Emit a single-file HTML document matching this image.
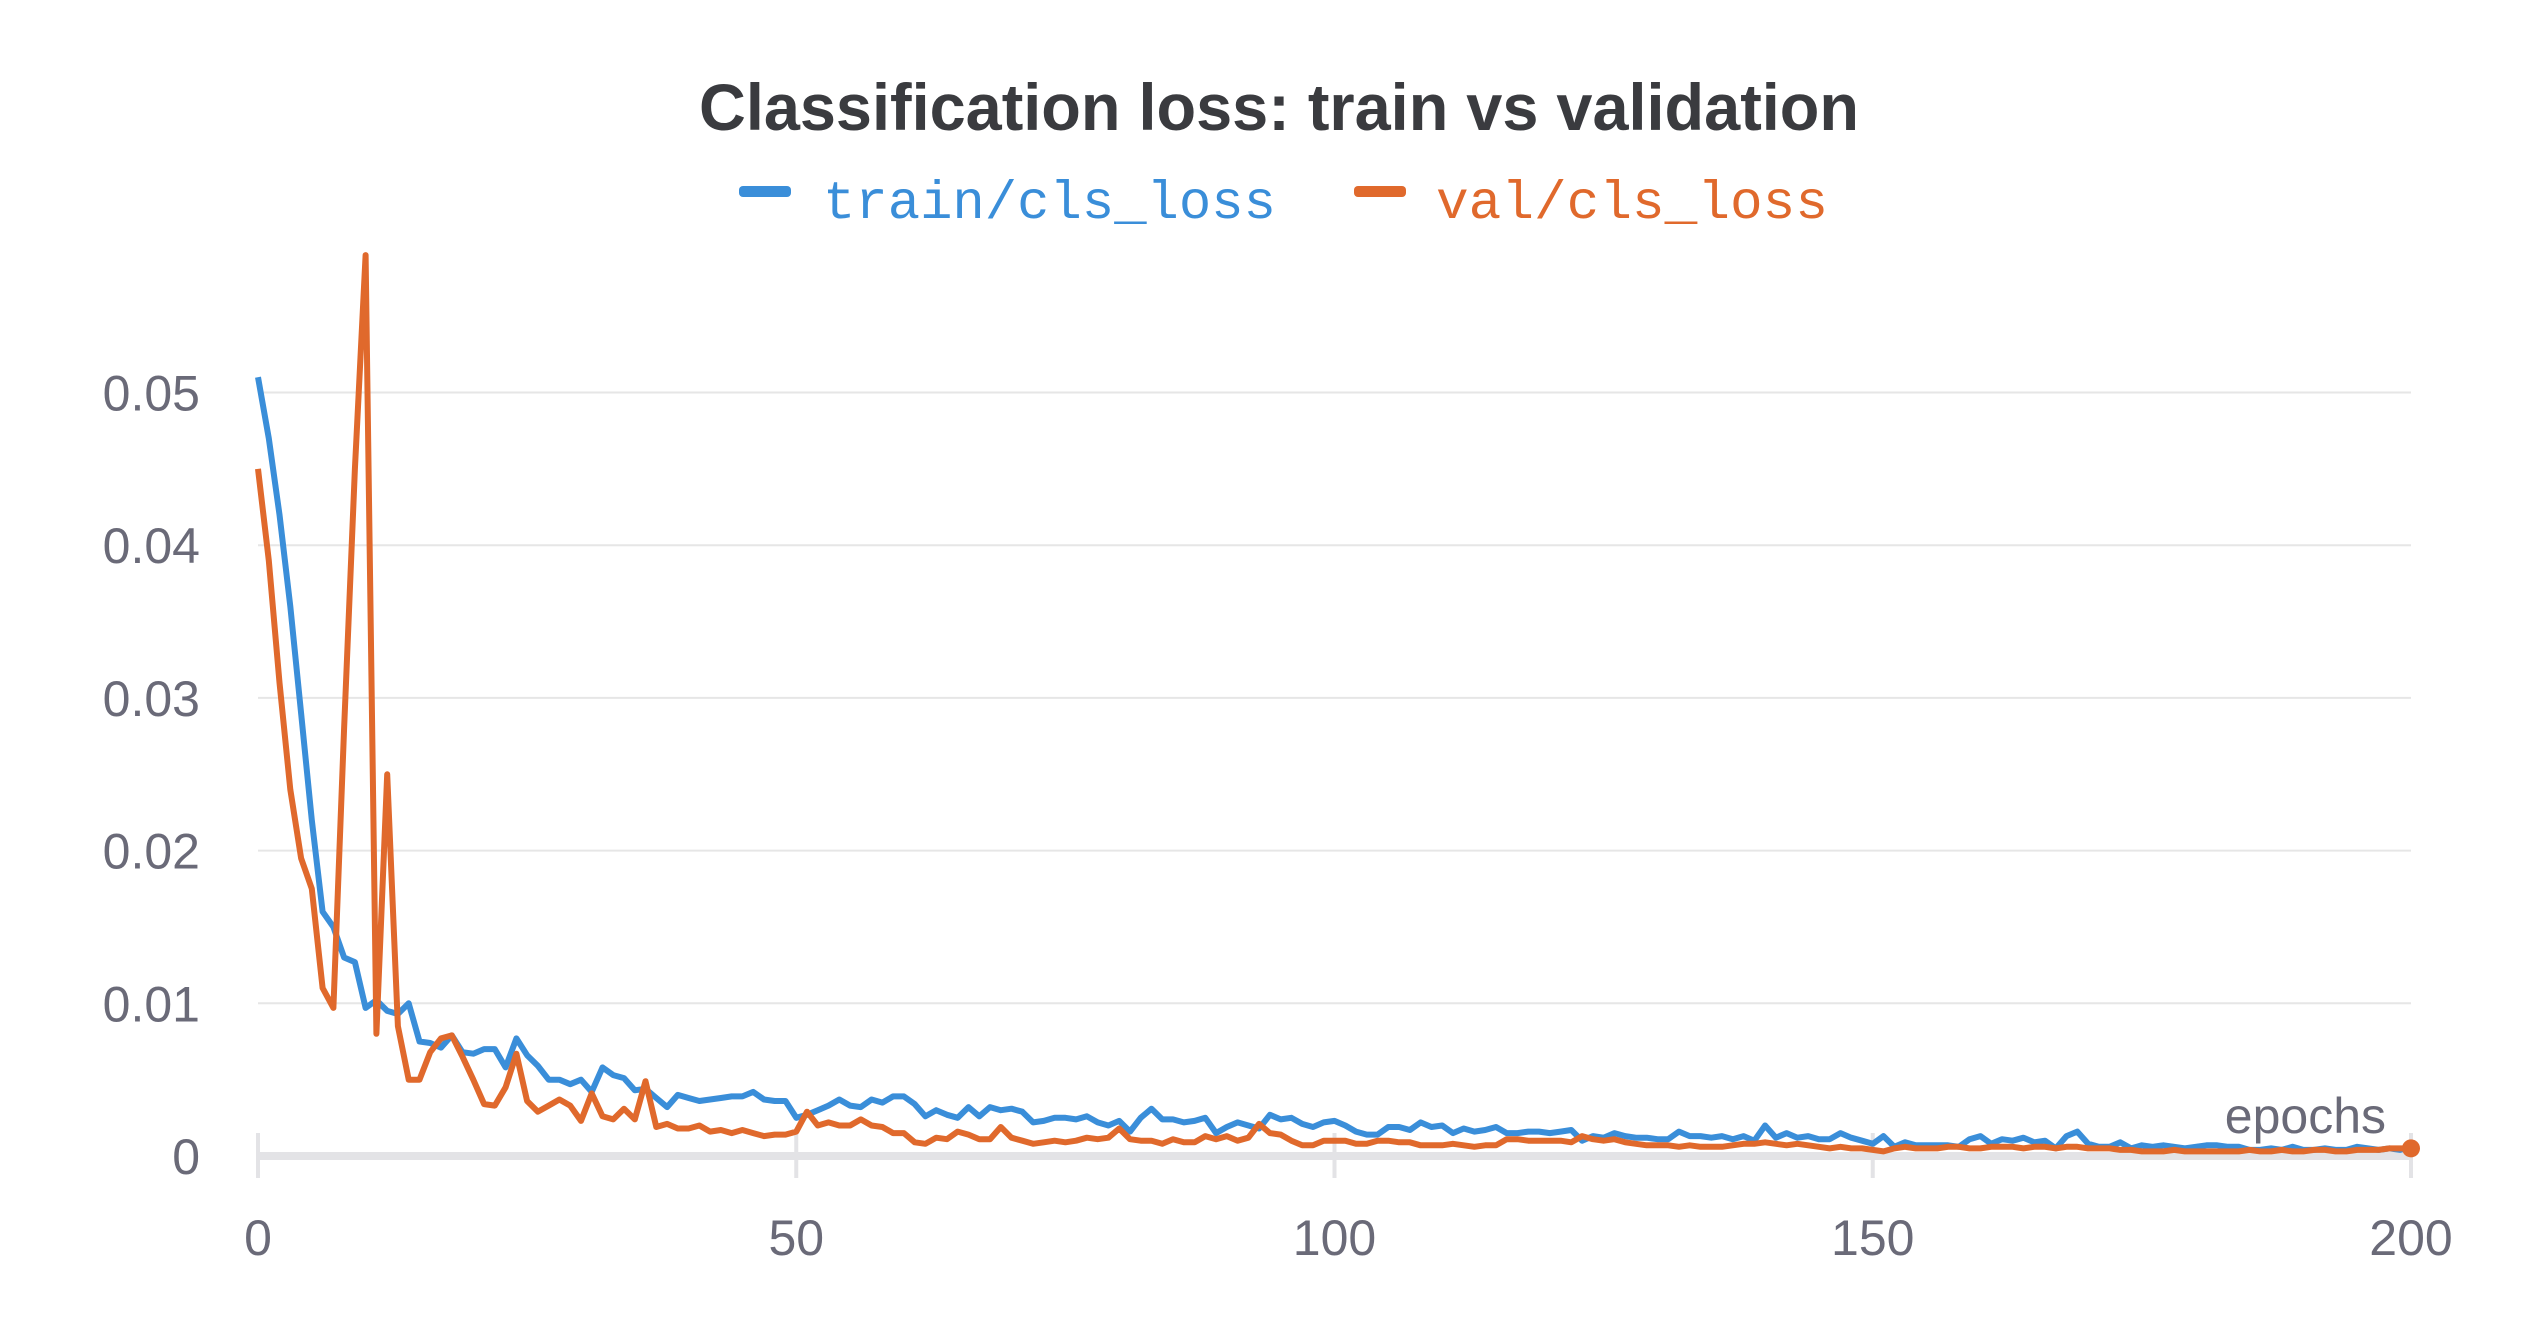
<!DOCTYPE html>
<html><head><meta charset="utf-8"><style>
html,body{margin:0;padding:0;background:#fff;}
svg{display:block;}
</style></head><body>
<svg id="chart" width="2528" height="1328" viewBox="0 0 2528 1328" xmlns="http://www.w3.org/2000/svg">
<text x="1279" y="130" text-anchor="middle" font-family="Liberation Sans, sans-serif" font-weight="bold" font-size="66" fill="#3a3b3f" textLength="1160" lengthAdjust="spacingAndGlyphs">Classification loss: train vs validation</text>
<g>
<g>
<rect x="739" y="186" width="52" height="11" rx="4" fill="#3a8ed9"/>
<text x="823" y="218" font-family="Liberation Mono, monospace" font-size="54" fill="#3a8ed9" textLength="453" lengthAdjust="spacingAndGlyphs">train/cls_loss</text>
</g>
<g>
<rect x="1354" y="186" width="52" height="11" rx="4" fill="#e0692c"/>
<text x="1436" y="218" font-family="Liberation Mono, monospace" font-size="54" fill="#e0692c" textLength="392" lengthAdjust="spacingAndGlyphs">val/cls_loss</text>
</g>
</g>
<g id="grid"></g>
<g id="axes"></g>
<g id="series"></g>
<text x="2386" y="1133" text-anchor="end" font-family="Liberation Sans, sans-serif" font-size="50" fill="#6a6a78">epochs</text>
</svg>
<script>
const yTicks = [0, 0.01, 0.02, 0.03, 0.04, 0.05];
const yTickLabels = ["0", "0.01", "0.02", "0.03", "0.04", "0.05"];
const xTicks = [0, 50, 100, 150, 200];
const xTickLabels = ["0", "50", "100", "150", "200"];
const trainLoss = [
0.051,0.047,0.042,0.036,0.029,0.022,0.016,0.015,0.013,0.0127,
0.0097,0.0102,0.0095,0.0093,0.0100,0.0075,0.0074,0.0071,0.0079,0.0068,
0.0067,0.0070,0.0070,0.0058,0.0077,0.0066,0.0059,0.0050,0.0050,0.0047,
0.0050,0.0042,0.0058,0.0053,0.0051,0.0043,0.0044,0.0038,0.0032,0.0040,
0.0038,0.0036,0.0037,0.0038,0.0039,0.0039,0.0042,0.0037,0.0036,0.0036,
0.0025,0.0027,0.0030,0.0033,0.0037,0.0033,0.0032,0.0037,0.0035,0.0039,
0.0039,0.0034,0.0026,0.0030,0.0027,0.0025,0.0032,0.0026,0.0032,0.0030,
0.0031,0.0029,0.0022,0.0023,0.0025,0.0025,0.0024,0.0026,0.0022,0.0020,
0.0023,0.0016,0.0025,0.0031,0.0024,0.0024,0.0022,0.0023,0.0025,0.0015,
0.0019,0.0022,0.0020,0.0018,0.0027,0.0024,0.0025,0.0021,0.0019,0.0022,
0.0023,
0.0020,0.0016,0.0014,0.0014,0.0019,0.0019,0.0017,0.0022,0.0019,0.0020,
0.0015,0.0018,0.0016,0.0017,0.0019,0.0015,0.0015,0.0016,0.0016,0.0015,
0.0016,0.0017,0.0010,0.0013,0.0012,0.0015,0.0013,0.0012,0.0012,0.0011,
0.0011,0.0016,0.0013,0.0013,0.0012,0.0013,0.0011,0.0013,0.0010,0.0020,
0.0012,0.0015,0.0012,0.0013,0.0011,0.0011,0.0015,0.0012,0.0010,0.0008,
0.0013,0.0006,0.0009,0.0007,0.0007,0.0007,0.0007,0.0006,0.0011,0.0013,
0.0008,0.0011,0.0010,0.0012,0.0009,0.0010,0.0005,0.0013,0.0016,0.0008,
0.0006,0.0006,0.0009,0.0005,0.0007,0.0006,0.0007,0.0006,0.0005,0.0006,
0.0007,0.0007,0.0006,0.0006,0.0004,0.0004,0.0005,0.0004,0.0006,0.0004,
0.0004,0.0005,0.0004,0.0004,0.0006,0.0005,0.0004,0.0005,0.0004,0.0006
];
const valLoss = [
0.045,0.039,0.031,0.024,0.0195,0.0175,0.011,0.0097,0.028,0.045,
0.059,0.008,0.025,0.0085,0.005,0.005,0.0068,0.0077,0.0079,0.0065,
0.0050,0.0034,0.0033,0.0045,0.0067,0.0036,0.0029,0.0033,0.0037,0.0033,
0.0023,0.0041,0.0026,0.0024,0.0031,0.0024,0.0049,0.0019,0.0021,0.0018,
0.0018,0.0020,0.0016,0.0017,0.0015,0.0017,0.0015,0.0013,0.0014,0.0014,
0.0016,0.0029,0.0020,0.0022,0.0020,0.0020,0.0024,0.0020,0.0019,0.0015,
0.0015,0.0009,0.0008,0.0012,0.0011,0.0016,0.0014,0.0011,0.0011,0.0019,
0.0012,0.0010,0.0008,0.0009,0.0010,0.0009,0.0010,0.0012,0.0011,0.0012,
0.0018,0.0011,0.0010,0.0010,0.0008,0.0011,0.0009,0.0009,0.0013,0.0011,
0.0013,0.0010,0.0012,0.0021,0.0015,0.0014,0.0010,0.0007,0.0007,0.0010,
0.0010,
0.0010,0.0008,0.0008,0.0010,0.0010,0.0009,0.0009,0.0007,0.0007,0.0007,
0.0008,0.0007,0.0006,0.0007,0.0007,0.0011,0.0011,0.0010,0.0010,0.0010,
0.0010,0.0009,0.0013,0.0011,0.0010,0.0011,0.0009,0.0008,0.0007,0.0007,
0.0007,0.0006,0.0007,0.0006,0.0006,0.0006,0.0007,0.0008,0.0008,0.0009,
0.0008,0.0007,0.0008,0.0007,0.0006,0.0005,0.0006,0.0005,0.0005,0.0004,
0.0003,0.0005,0.0006,0.0005,0.0005,0.0005,0.0006,0.0006,0.0005,0.0005,
0.0006,0.0006,0.0006,0.0005,0.0006,0.0006,0.0005,0.0006,0.0006,0.0005,
0.0005,0.0005,0.0004,0.0004,0.0003,0.0003,0.0003,0.0004,0.0003,0.0003,
0.0003,0.0003,0.0003,0.0003,0.0004,0.0003,0.0003,0.0004,0.0003,0.0003,
0.0004,0.0004,0.0003,0.0003,0.0004,0.0004,0.0004,0.0005,0.0005,0.0005
];

const NS = "http://www.w3.org/2000/svg";
const X0 = 258, X1 = 2411, Y0 = 1156, YTOP = 251;
const xMax = 200, yPerUnit = 15270;
function xs(e){ return X0 + (X1 - X0) * e / xMax; }
function ys(v){ return Math.max(YTOP, Y0 - v * yPerUnit); }
function mk(tag, attrs, parent){
  const el = document.createElementNS(NS, tag);
  for (const k in attrs) el.setAttribute(k, attrs[k]);
  parent.appendChild(el);
  return el;
}
const grid = document.getElementById('grid');
const axes = document.getElementById('axes');
const series = document.getElementById('series');

yTicks.forEach((t, i) => {
  if (t > 0) {
    const gl = mk('line', {x1: X0, x2: X1, y1: ys(t), y2: ys(t), stroke: '#e6e6e6', 'stroke-width': 2}, grid);
    
    
  }
  const tx = mk('text', {x: 200, y: ys(t) + 18, 'text-anchor': 'end', 'font-family': 'Liberation Sans, sans-serif', 'font-size': 50, fill: '#6a6a78'}, axes);
  tx.textContent = yTickLabels[i];
  
  
});
const zl = mk('line', {x1: X0, x2: X1, y1: Y0, y2: Y0, stroke: '#e3e3e6', 'stroke-width': 8}, axes);


xTicks.forEach((t, i) => {
  const tk = mk('line', {x1: xs(t), x2: xs(t), y1: 1133, y2: 1178, stroke: '#e3e3e6', 'stroke-width': 4}, axes);
  
  
  const tx = mk('text', {x: xs(t), y: 1255, 'text-anchor': 'middle', 'font-family': 'Liberation Sans, sans-serif', 'font-size': 50, fill: '#6a6a78'}, axes);
  tx.textContent = xTickLabels[i];
  
  
});
function drawLine(data, color, name){
  const pts = data.map((v, i) => xs(i).toFixed(1) + ',' + ys(v).toFixed(1)).join(' ');
  const pl = mk('polyline', {points: pts, fill: 'none', stroke: color, 'stroke-width': 6, 'stroke-linejoin': 'round'}, series);
  
  
}
drawLine(trainLoss, '#3a8ed9', 'train-loss-line');
drawLine(valLoss, '#e0692c', 'val-loss-line');
const last = valLoss.length - 1;
const dot = mk('circle', {cx: xs(last), cy: ys(valLoss[last]), r: 9, fill: '#e0692c'}, series);


</script>
</body></html>
